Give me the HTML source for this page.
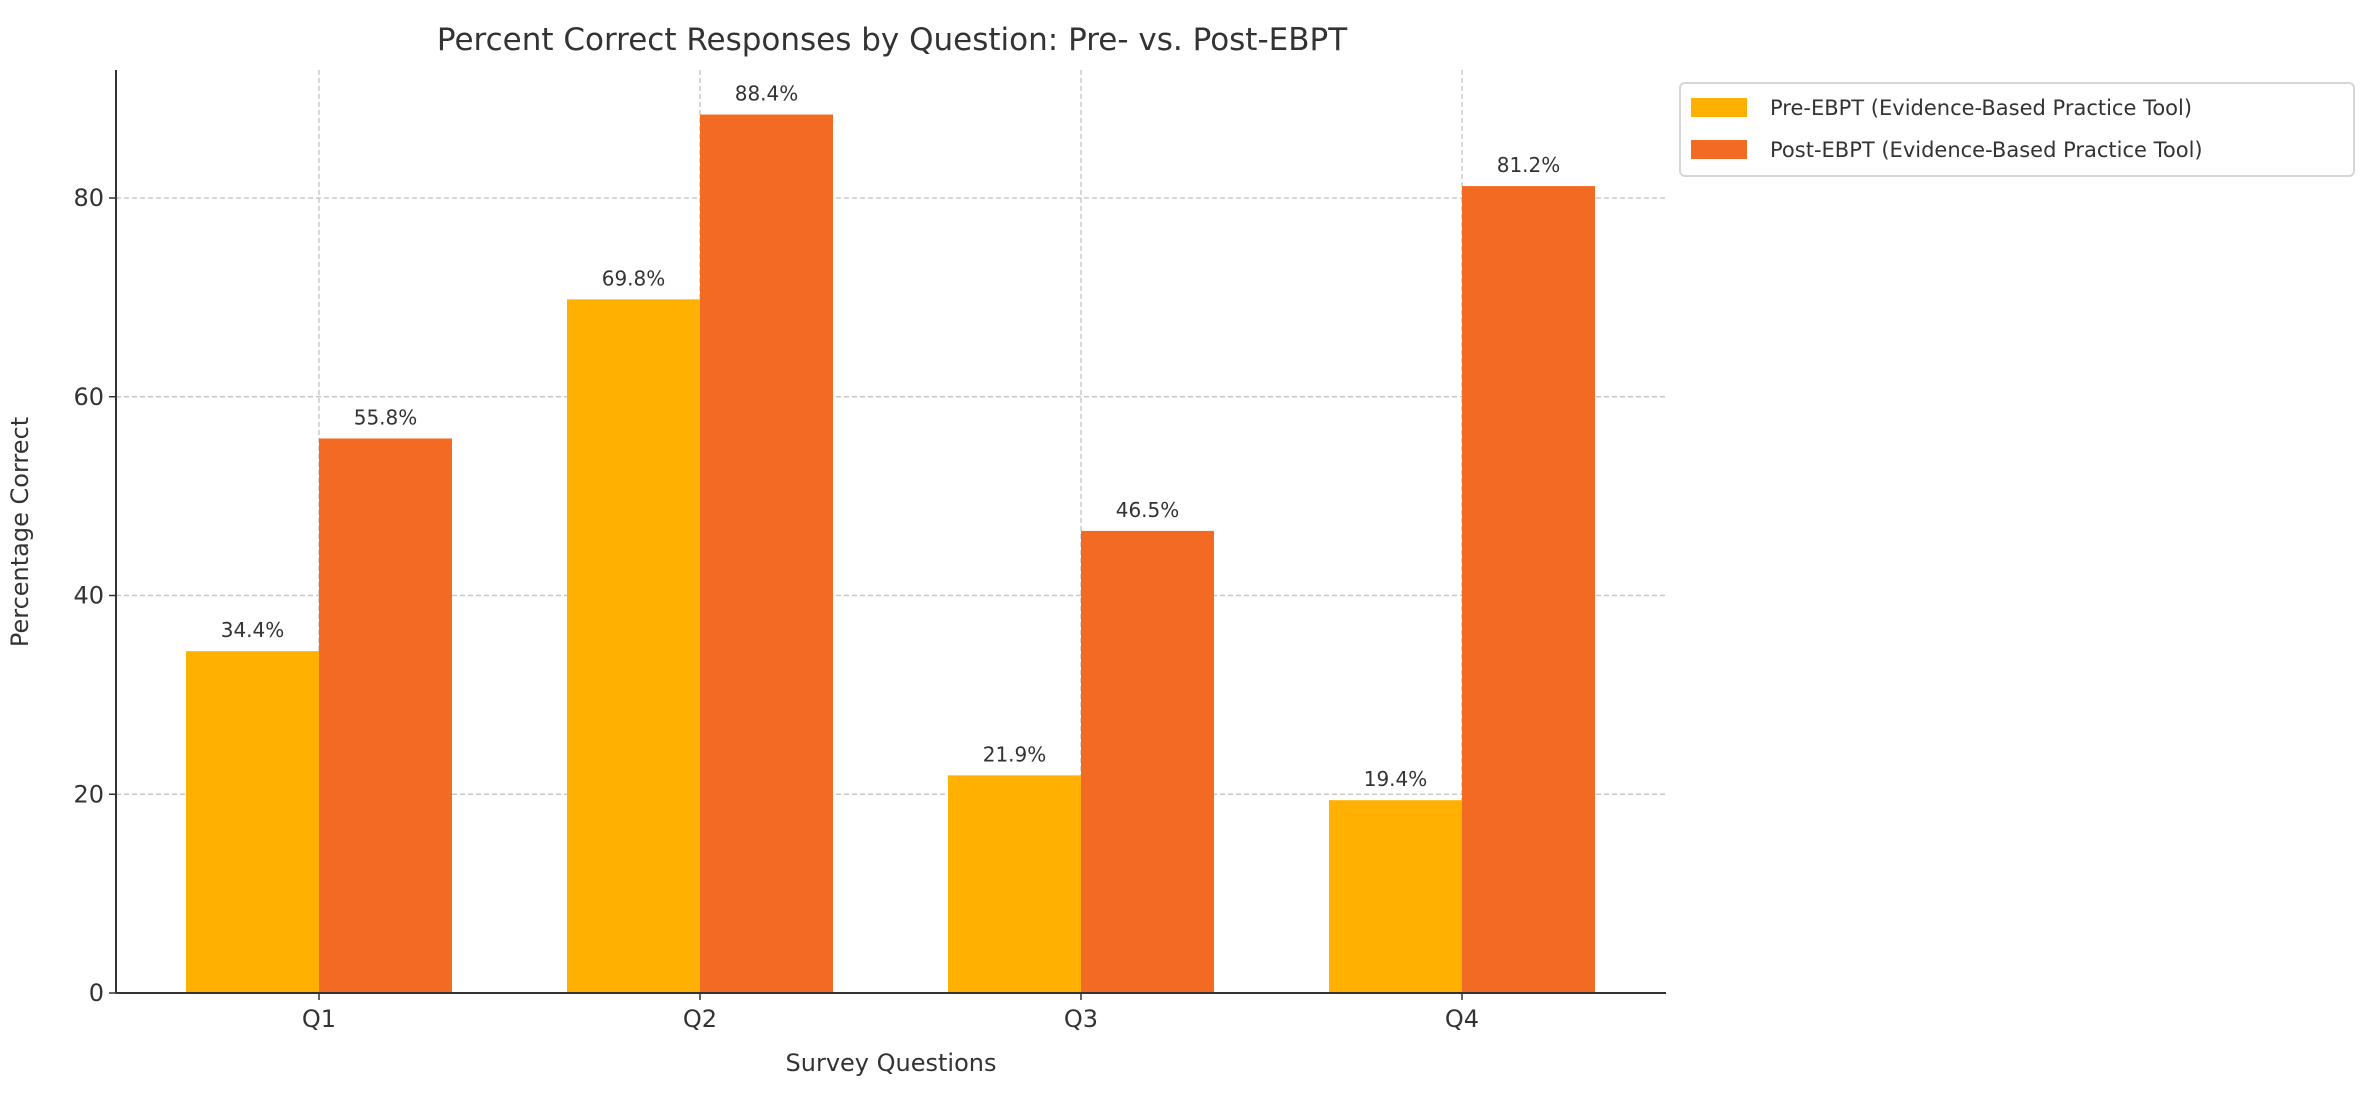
<!DOCTYPE html>
<html><head><meta charset="utf-8"><style>
html,body{margin:0;padding:0;background:#fff;}
svg{display:block;font-family:"DejaVu Sans","Liberation Sans",sans-serif;}
</style></head><body>
<svg id="chart" width="2371" height="1101" viewBox="0 0 2371 1101">
<text x="892" y="50" text-anchor="middle" font-size="31" fill="#333">Percent Correct Responses by Question: Pre- vs. Post-EBPT</text>
<g id="grid"></g>
<g id="bars"></g>
<g id="labels"></g>
<g id="axes"></g>
<text x="28" y="532" transform="rotate(-90 28 532)" text-anchor="middle" font-size="24" fill="#333">Percentage Correct</text>
<text x="891" y="1071" text-anchor="middle" font-size="24" fill="#333">Survey Questions</text>
<g>
<rect x="1680" y="83" width="674" height="93" rx="5" fill="#fff" stroke="#d6d6d6" stroke-width="2"/>
<g>
<rect x="1691" y="98" width="56" height="19" fill="#FFB000"/>
<text x="1770" y="115" font-size="21" fill="#333">Pre-EBPT (Evidence-Based Practice Tool)</text>
</g>
<g>
<rect x="1691" y="140" width="56" height="19" fill="#F36B22"/>
<text x="1770" y="157" font-size="21" fill="#333">Post-EBPT (Evidence-Based Practice Tool)</text>
</g>
</g>
</svg>
<script>
const categories = ["Q1","Q2","Q3","Q4"];
const preValues = [34.4, 69.8, 21.9, 19.4];
const postValues = [55.8, 88.4, 46.5, 81.2];
const yTicks = [0,20,40,60,80];

const NS="http://www.w3.org/2000/svg";
const L=116,R=1666,B=993,T=70,yPerUnit=(993-198)/80;
function y(v){return B - v*yPerUnit;}
function xc(i){return 319 + i*381;}
const bw=133;
function mk(tag,attrs,parent){const e=document.createElementNS(NS,tag);for(const k in attrs)e.setAttribute(k,attrs[k]);parent.appendChild(e);return e;}
const grid=document.getElementById('grid'),bars=document.getElementById('bars'),labels=document.getElementById('labels'),axes=document.getElementById('axes');
yTicks.forEach(t=>{
  if(t>0){const g=mk('line',{x1:L,x2:R,y1:y(t),y2:y(t),stroke:'#c8c8c8','stroke-width':1.5,'stroke-dasharray':'5,3'},grid);
  
  }
  const tk=mk('line',{x1:L-7,x2:L,y1:y(t),y2:y(t),stroke:'#333','stroke-width':1.5},axes);
  
  
  const tl=mk('text',{x:L-12,y:y(t)+8,'text-anchor':'end','font-size':24,fill:'#333'},axes);
  tl.textContent=t;
  
  
});
categories.forEach((c,i)=>{
  const gl=mk('line',{x1:xc(i),x2:xc(i),y1:T,y2:B,stroke:'#c8c8c8','stroke-width':1.5,'stroke-dasharray':'5,3'},grid);
  
  
  [[preValues[i],'#FFB000',-bw,'pre'],[postValues[i],'#F36B22',0,'post']].forEach(([v,col,off,s])=>{
    const r=mk('rect',{x:xc(i)+off,y:y(v),width:bw,height:B-y(v),fill:col},bars);
    
    
    const t=mk('text',{x:xc(i)+off+bw/2,y:y(v)-14,'text-anchor':'middle','font-size':20,fill:'#333'},labels);
    t.textContent=v.toFixed(1)+'%';
    
    
  });
  const tk=mk('line',{x1:xc(i),x2:xc(i),y1:B,y2:B+7,stroke:'#333','stroke-width':1.5},axes);
  
  
  const tl=mk('text',{x:xc(i),y:B+34,'text-anchor':'middle','font-size':24,fill:'#333'},axes);
  tl.textContent=c;
  
  
});
const ya=mk('line',{x1:L,x2:L,y1:T,y2:B,stroke:'#333','stroke-width':2},axes);


const xa=mk('line',{x1:L,x2:R,y1:B,y2:B,stroke:'#333','stroke-width':2},axes);


</script>
</body></html>
